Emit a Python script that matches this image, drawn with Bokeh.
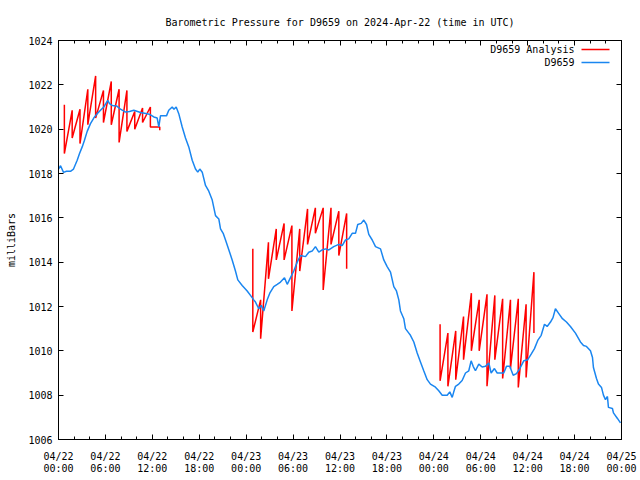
from bokeh.plotting import figure
from bokeh.models import Range1d, LinearAxis, FixedTicker, Label, BoxAnnotation
from bokeh.embed import file_html
from bokeh.resources import INLINE

title_text = "Barometric Pressure for D9659 on 2024-Apr-22 (time in UTC)"
y_label = "milliBars"
analysis_name = "D9659 Analysis"
station_name = "D9659"

# x positions are hours since 2024-04-22 00:00 UTC
tick_hours = [0, 6, 12, 18, 24, 30, 36, 42, 48, 54, 60, 66, 72]
tick_labels = ["04/22\n00:00", "04/22\n06:00", "04/22\n12:00", "04/22\n18:00",
               "04/23\n00:00", "04/23\n06:00", "04/23\n12:00", "04/23\n18:00",
               "04/24\n00:00", "04/24\n06:00", "04/24\n12:00", "04/24\n18:00",
               "04/25\n00:00"]
minor_hours = [2, 4, 8, 10, 14, 16, 20, 22, 26, 28, 32, 34, 38, 40, 44, 46,
               50, 52, 56, 58, 62, 64, 68, 70]
y_ticks = [1006, 1008, 1010, 1012, 1014, 1016, 1018, 1020, 1022, 1024]

# D9659 observed pressure
blue_hours = [0.0, 0.26, 0.64, 1.02, 1.53, 1.92, 2.39, 2.69, 3.03, 3.32, 3.67, 4.09,
              4.51, 4.95, 5.37, 5.79, 6.30, 6.52, 6.87, 7.42, 7.93, 8.57, 9.08, 9.63,
              10.49, 11.34, 11.76, 12.19, 12.62, 12.83, 13.04, 13.43, 13.81, 14.10,
              14.54, 14.77, 15.05, 15.38, 15.82, 16.24, 16.66, 17.10, 17.52, 17.81,
              18.07, 18.38, 18.80, 19.22, 19.66, 20.08, 20.50, 20.72, 21.06, 21.36,
              21.65, 22.21, 22.63, 22.93, 23.49, 24.13, 24.55, 24.97, 25.19, 25.61,
              25.92, 26.25, 26.69, 27.02, 27.53, 27.97, 28.39, 28.90, 29.25, 29.67,
              30.09, 30.52, 30.95, 31.59, 32.01, 32.44, 32.86, 33.29, 33.72, 34.14,
              34.57, 35.20, 35.84, 36.28, 36.70, 37.12, 37.56, 37.98, 38.27, 38.71,
              39.04, 39.39, 39.68, 40.12, 40.54, 41.18, 41.60, 42.03, 42.46, 42.88,
              43.22, 43.52, 43.73, 44.16, 44.37, 44.80, 45.01, 45.44, 45.87, 46.29,
              46.71, 47.15, 47.57, 48.21, 48.63, 49.07, 49.71, 50.04, 50.35, 50.55,
              50.77, 51.19, 51.62, 52.05, 52.47, 52.77, 53.03, 53.32, 53.75, 54.18,
              54.60, 55.03, 55.33, 55.75, 56.10, 56.94, 57.29, 57.71, 58.15, 58.57,
              58.99, 59.50, 60.01, 60.45, 60.87, 61.29, 61.73, 62.15, 62.49, 62.92,
              63.24, 63.55, 63.94, 64.45, 64.96, 65.47, 66.11, 66.75, 67.14, 67.52,
              68.03, 68.29, 68.41, 68.80, 69.05, 69.44, 69.69, 69.95, 70.20, 70.33,
              70.84, 70.97, 71.48, 71.87]
blue_values = [1018.2, 1018.35, 1018.05, 1018.1, 1018.1, 1018.2, 1018.6, 1018.9, 1019.2,
               1019.5, 1019.9, 1020.25, 1020.5, 1020.7, 1020.85, 1021.0, 1021.3, 1021.15,
               1021.07, 1021.05, 1020.9, 1020.77, 1020.8, 1020.85, 1020.75, 1020.7,
               1020.65, 1020.55, 1020.5, 1020.1, 1020.6, 1020.6, 1020.6, 1020.85, 1021.0,
               1020.9, 1021.0, 1020.7, 1020.1, 1019.6, 1019.2, 1018.6, 1018.2, 1018.06,
               1018.2, 1018.06, 1017.46, 1017.2, 1016.8, 1016.1, 1015.95, 1015.5, 1015.3,
               1015.0, 1014.7, 1014.1, 1013.6, 1013.2, 1012.95, 1012.7, 1012.5, 1012.3,
               1012.2, 1011.9, 1012.05, 1011.8, 1012.3, 1012.6, 1012.9, 1013.0, 1013.1,
               1013.3, 1013.0, 1013.3, 1013.6, 1014.0, 1014.3, 1014.25, 1014.45, 1014.5,
               1014.7, 1014.45, 1014.55, 1014.6, 1014.55, 1014.7, 1014.8, 1014.75, 1015.0,
               1015.05, 1015.3, 1015.3, 1015.7, 1015.75, 1015.9, 1015.7, 1015.25, 1015.0,
               1014.7, 1014.6, 1014.1, 1013.8, 1013.55, 1012.9, 1012.7, 1012.3, 1011.8,
               1011.45, 1011.0, 1010.8, 1010.7, 1010.4, 1009.9, 1009.5, 1009.1, 1008.7,
               1008.5, 1008.36, 1008.2, 1008.0, 1008.0, 1008.15, 1007.9, 1008.15, 1008.4,
               1008.5, 1008.66, 1009.0, 1009.1, 1009.55, 1009.3, 1009.1, 1009.4, 1009.27,
               1009.3, 1009.45, 1009.0, 1009.2, 1009.0, 1009.0, 1009.3, 1009.3, 1008.9,
               1008.97, 1009.2, 1009.55, 1009.6, 1009.85, 1010.1, 1010.47, 1010.7, 1011.2,
               1011.1, 1011.3, 1011.5, 1011.9, 1011.7, 1011.45, 1011.3, 1011.1, 1010.8,
               1010.4, 1010.24, 1010.2, 1010.0, 1009.7, 1009.25, 1008.75, 1008.5, 1008.35,
               1008.0, 1007.8, 1007.94, 1007.45, 1007.4, 1007.2, 1006.95, 1006.75]

# D9659 Analysis: three runs, sawtooth (value reached at each time, value after the jump)
run1_hours = [0.75, 1.75, 2.75, 3.75, 4.75, 5.75, 6.75, 7.75, 8.75, 9.75, 10.75, 11.75, 12.95]
run1_top = [1021.1, 1020.85, 1020.9, 1021.8, 1022.4, 1021.75, 1022.15, 1021.8, 1021.75,
            1020.8, 1020.95, 1021.0, 1020.1]
run1_bottom = [1018.9, 1019.6, 1019.35, 1020.2, 1020.5, 1020.3, 1020.2, 1019.4, 1019.9,
               1020.0, 1020.3, 1020.1, 1019.95]

run2_hours = [24.85, 25.85, 26.85, 27.85, 28.85, 29.85, 30.85, 31.85, 32.85, 33.85,
              34.85, 35.85, 36.85]
run2_top = [1014.6, 1012.3, 1014.9, 1015.5, 1015.75, 1015.65, 1015.5, 1016.4, 1016.45,
            1016.45, 1016.45, 1016.3, 1016.2]
run2_bottom = [1010.85, 1010.55, 1013.25, 1014.1, 1014.1, 1011.8, 1013.6, 1014.8, 1015.3,
               1012.75, 1014.8, 1014.3, 1013.7]

run3_hours = [48.8, 49.8, 50.8, 51.8, 52.8, 53.8, 54.8, 55.8, 56.8, 57.8, 58.8, 59.8, 60.8]
run3_top = [1011.2, 1010.8, 1010.9, 1011.55, 1012.6, 1012.3, 1012.55, 1012.5, 1012.35,
            1012.3, 1012.35, 1012.1, 1013.55]
run3_bottom = [1008.65, 1008.4, 1008.7, 1009.6, 1010.0, 1010.0, 1008.4, 1009.6, 1008.75,
               1009.2, 1008.35, 1008.8, 1010.8]

red_x, red_y = [], []
for hrs, tops, bots in [(run1_hours, run1_top, run1_bottom),
                        (run2_hours, run2_top, run2_bottom),
                        (run3_hours, run3_top, run3_bottom)]:
    if red_x:
        red_x.append(float("nan"))
        red_y.append(float("nan"))
    for h, t, b in zip(hrs, tops, bots):
        red_x += [h, h]
        red_y += [t, b]

FONT = "DejaVu Sans Mono"
FS = "10px"
RED = "#ff0000"
BLUE = "#1a86f0"

p = figure(width=640, height=480, output_backend="svg", toolbar_location=None,
           x_range=Range1d(0, 72), y_range=Range1d(1006, 1024),
           x_axis_type=None, y_axis_type=None,
           min_border_left=58, min_border_right=19, min_border_top=40, min_border_bottom=41)
p.background_fill_color = "white"
p.border_fill_color = "white"
p.outline_line_color = "black"
p.outline_line_width = 1
p.grid.visible = False

p.title.text = title_text
p.title.align = "center"
p.title.text_font = FONT
p.title.text_font_size = FS
p.title.text_font_style = "normal"
p.title.text_color = "black"
p.title.standoff = 26

xt = FixedTicker(ticks=tick_hours, minor_ticks=minor_hours)
yt = FixedTicker(ticks=y_ticks, minor_ticks=[])

def style(ax, show_labels):
    ax.axis_line_color = "black"
    ax.major_tick_line_color = "black"
    ax.minor_tick_line_color = "black"
    ax.major_tick_in = 5
    ax.major_tick_out = 0
    ax.minor_tick_in = 3
    ax.minor_tick_out = 0
    ax.major_label_text_font = FONT
    if show_labels:
        ax.major_label_text_font_size = FS
        ax.major_label_text_color = "black"
    else:
        ax.major_label_text_font_size = "1px"
        ax.major_label_text_color = None
        ax.major_label_standoff = 0

xb = LinearAxis(ticker=xt, major_label_overrides={h: l for h, l in zip(tick_hours, tick_labels)})
style(xb, True)
xb.major_label_standoff = 11
xb.major_label_text_line_height = 1.12
p.add_layout(xb, "below")

xa = LinearAxis(ticker=xt)
style(xa, False)
p.add_layout(xa, "above")

yl = LinearAxis(ticker=yt, axis_label=y_label)
style(yl, True)
yl.major_label_standoff = 6
yl.axis_label_text_font = FONT
yl.axis_label_text_font_size = FS
yl.axis_label_text_font_style = "normal"
yl.axis_label_text_color = "black"
yl.axis_label_standoff = 8
p.add_layout(yl, "left")

yr = LinearAxis(ticker=yt)
style(yr, False)
p.add_layout(yr, "right")

r_red = p.line(red_x, red_y, line_color=RED, line_width=1.5)
r_blue = p.line(blue_hours, blue_values, line_color=BLUE, line_width=1.5)

# gnuplot-style key: text first, then line sample (screen units, frame-relative)
for name, color, ky in [(analysis_name, RED, 390), (station_name, BLUE, 377)]:
    p.add_layout(Label(x=516, y=ky, x_units="screen", y_units="screen", text=name,
                       text_align="right", text_baseline="middle", text_font=FONT,
                       text_font_size=FS, text_color="black"))
    p.add_layout(BoxAnnotation(left=523, right=551, bottom=ky - 0.75, top=ky + 0.75,
                               left_units="screen", right_units="screen",
                               bottom_units="screen", top_units="screen",
                               fill_color=color, fill_alpha=1, line_color=None))

open("out.html", "w").write(file_html(p, INLINE))
